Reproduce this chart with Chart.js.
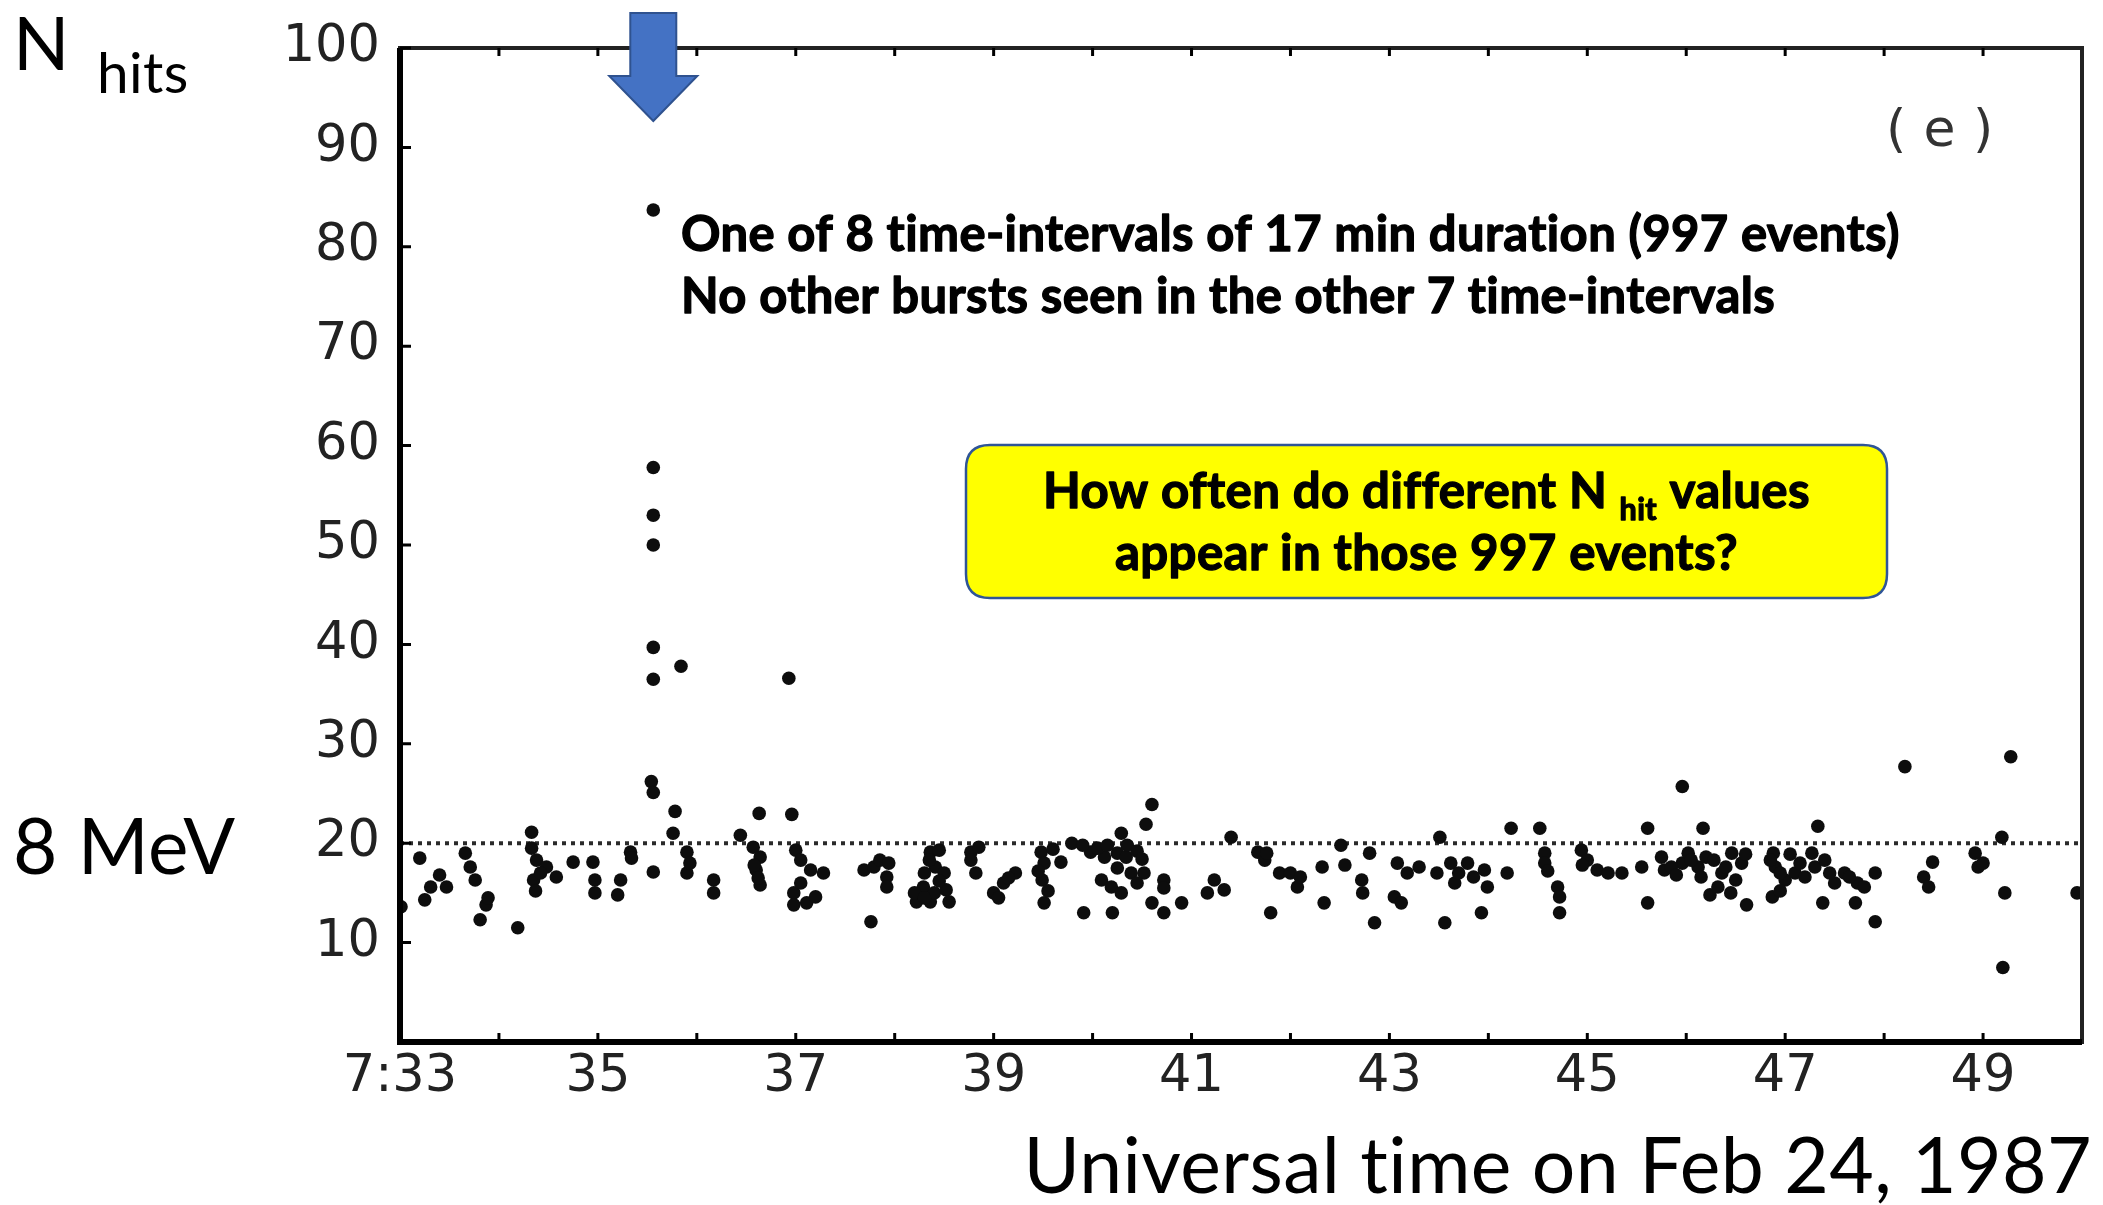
<!DOCTYPE html>
<html>
<head>
<meta charset="utf-8">
<script src="https://cdn.jsdelivr.net/npm/chart.js@4.4.1/dist/chart.umd.min.js"></script>
<style>
  html,body{margin:0;padding:0;background:#fff;}
  #wrap{position:relative;width:2103px;height:1205px;}
  canvas{display:block;}
</style>
</head>
<body>
<div id="wrap"><canvas id="c" width="2103" height="1205"></canvas></div>
<script>
// ---------- data ----------
// isolated / clearly separated events: time (minutes after 7:00 UT) and number of hit PMTs
const eventTimes = [
  33.01,33.20,33.25,33.31,33.47,33.66,33.71,33.76,33.81,33.87,33.89,34.19,34.33,34.33,34.35,34.37,34.38,34.48,34.58,34.75,
  34.95,34.97,34.97,35.20,35.23,35.33,35.34,35.54,35.56,35.56,35.56,35.56,35.56,35.56,35.56,35.56,35.76,35.78,35.84,35.90,
  35.90,35.93,36.17,36.17,36.44,36.57,36.60,36.63,36.64,36.64,36.93,36.96,36.98,36.98,37.00,37.05,37.11,37.15,37.28,
  37.69,37.76,37.79,37.92,37.92,38.22,38.29,38.36,38.36,38.40,38.41,38.50,38.52,38.77,38.77,38.82,39.00,39.10,39.22,39.48,
  39.49,39.51,39.51,39.68,39.79,39.91,39.98,40.09,40.12,40.19,40.20,40.25,40.29,40.29,40.34,40.39,40.52,40.54,40.60,40.60,
  40.72,40.72,40.72,40.90,41.16,41.23,41.33,41.40,41.67,
  41.74,41.76,41.80,41.89,42.00,42.07,42.32,42.34,42.51,42.72,42.73,42.80,42.85,43.05,43.08,43.12,43.18,43.48,43.51,43.56,
  43.62,43.66,43.79,43.93,43.96,43.99,44.19,44.23,44.52,44.57,44.57,44.70,44.72,44.72,44.94,45.00,45.10,45.21,45.35,45.55,
  45.61,45.61,45.78,45.96,45.96,46.02,
  46.12,46.17,46.20,46.24,46.32,46.36,46.46,46.56,46.61,46.87,46.88,46.90,47.00,47.10,47.27,47.30,47.33,47.38,47.50,47.60,
  47.71,47.73,47.91,47.91,48.21,48.40,48.45,48.49,48.92,48.95,49.19,49.20,49.22,49.28,49.95
];
const eventNhits = [
  13.6,18.5,14.3,15.6,15.6,19.0,17.6,16.3,12.3,13.8,14.5,11.5,21.1,19.5,16.3,15.2,18.3,17.6,16.6,18.1,
  18.1,16.3,15.0,14.8,16.3,19.1,18.5,26.2,25.1,17.1,36.5,39.7,50.0,53.0,57.8,83.7,21.0,23.2,37.8,19.1,
  17.0,18.0,16.3,15.0,20.8,19.6,17.3,23.0,18.6,15.8,36.6,22.9,15.0,13.8,19.3,18.3,14.0,17.3,17.0,
  17.3,12.1,17.6,16.6,15.6,14.1,15.6,19.1,14.1,15.0,17.6,17.0,15.3,19.1,18.3,17.0,15.0,16.0,17.0,19.1,
  16.3,18.0,14.0,18.1,20.0,13.0,19.1,16.3,18.6,15.6,13.0,19.0,21.0,15.0,18.6,17.0,17.0,21.9,23.9,14.0,
  16.3,15.5,13.0,14.0,15.0,16.3,15.3,20.6,19.1,
  18.3,19.0,13.0,17.0,17.0,15.6,17.6,14.0,19.8,16.3,15.0,19.0,12.0,14.6,18.0,14.0,17.0,17.0,20.6,12.0,
  18.0,16.0,18.0,13.0,17.3,15.6,17.0,21.5,21.5,19.0,18.0,15.6,14.6,13.0,19.3,18.3,17.3,17.0,17.0,17.6,
  21.5,14.0,17.3,25.7,18.0,19.0,
  17.6,21.5,18.6,14.8,15.6,17.0,19.0,18.0,13.8,14.6,19.0,17.6,16.3,17.0,19.0,17.6,21.7,14.0,16.0,17.0,
  14.0,16.0,17.0,12.1,27.7,16.6,15.6,18.1,19.0,17.6,20.6,7.5,15.0,28.7,15.0
];
// events inside the dense, overlapping clusters of the band just under the 8 MeV line
const clusterTimes = [
  33.40,34.42,36.58,36.62,37.05,37.20,37.85,37.94,38.20,38.30,38.30,38.35,38.45,38.45,38.55,38.85,39.05,39.15,39.45,39.55,
  39.60,39.90,40.05,40.15,40.25,40.35,40.45,40.45,40.50,42.10,42.55,43.30,43.70,43.85,44.60,44.95,45.75,45.85,45.90,46.05,
  46.15,46.28,46.40,46.45,46.50,46.60,46.85,46.95,46.95,47.05,47.15,47.20,47.40,47.45,47.65,47.80,49.00
];
const clusterNhits = [
  16.8,17.0,17.8,16.5,16.0,14.6,18.3,18.0,15.0,14.5,17.0,18.3,16.2,19.3,14.1,19.6,14.5,16.5,17.2,15.2,
  19.4,19.8,19.5,19.8,17.5,19.8,19.2,16.0,18.4,16.6,17.8,17.6,17.0,16.6,17.2,17.8,18.6,17.6,16.8,18.3,
  16.6,18.3,17.6,15.0,16.3,18.9,18.3,17.0,15.2,18.9,18.0,16.6,18.3,17.0,16.6,15.6,18.0
];
const burstTime = 35.56;          // minute marked by the arrow
const thresholdNhit = 20;         // 8 MeV line
const xMin = 33, xMax = 50;
const yMin = 0, yMax = 100;
const xTickValues = [33,35,37,39,41,43,45,47,49];
const xTickLabels = ["7:33","35","37","39","41","43","45","47","49"];
const yTickValues = [10,20,30,40,50,60,70,80,90,100];
const yTickLabels = ["10","20","30","40","50","60","70","80","90","100"];
const minorXTicks = [34,35,36,37,38,39,40,41,42,43,44,45,46,47,48,49];

// ---------- texts ----------
const txtN = "N", txtHits = "hits";
const txtMeV = "8 MeV";
const txtXTitle = "Universal time on Feb 24, 1987";
const txtPanel = "( e )";
const txtNote1 = "One of 8 time-intervals of 17 min duration (997 events)";
const txtNote2 = "No other bursts seen in the other 7 time-intervals";
const txtBox1a = "How often do different N ", txtBox1sub = "hit", txtBox1b = " values";
const txtBox2 = "appear in those 997 events?";

const SANS = "Lato, 'Open Sans', sans-serif";
function fitSize(ctx, text, weight, family, targetW){
  ctx.font = weight + " 100px " + family;
  return 100 * targetW / ctx.measureText(text).width;
}
function boldText(ctx, text, x, y){
  ctx.fillText(text, x, y);
  ctx.strokeText(text, x, y);
}

const annot = {
  id: 'annot',
  beforeDraw(chart){
    const ctx = chart.ctx;
    ctx.save(); ctx.fillStyle = '#fff'; ctx.fillRect(0,0,chart.width,chart.height); ctx.restore();
  },
  afterDraw(chart){
    const {ctx, chartArea:a, scales:{x, y}} = chart;
    ctx.save();
    // frame: heavier left and bottom edges as in the scan
    ctx.strokeStyle = '#222';
    ctx.lineWidth = 4;
    ctx.strokeRect(a.left, a.top, a.right - a.left, a.bottom - a.top);
    ctx.strokeStyle = '#000';
    ctx.lineWidth = 6;
    ctx.beginPath();
    ctx.moveTo(a.left, a.top); ctx.lineTo(a.left, a.bottom); ctx.lineTo(a.right, a.bottom);
    ctx.stroke();
    // inward ticks
    ctx.lineWidth = 3;
    ctx.beginPath();
    yTickValues.forEach(v => { const py = y.getPixelForValue(v); ctx.moveTo(a.left, py); ctx.lineTo(a.left + 11, py); });
    minorXTicks.forEach(v => { const px = x.getPixelForValue(v);
      ctx.moveTo(px, a.bottom); ctx.lineTo(px, a.bottom - 9);
      ctx.moveTo(px, a.top); ctx.lineTo(px, a.top + 8); });
    ctx.stroke();

    // blue arrow at the burst
    const ax = x.getPixelForValue(burstTime);
    ctx.beginPath();
    ctx.moveTo(ax - 23, 13); ctx.lineTo(ax + 23, 13); ctx.lineTo(ax + 23, 76);
    ctx.lineTo(ax + 44, 76); ctx.lineTo(ax, 121); ctx.lineTo(ax - 44, 76);
    ctx.lineTo(ax - 23, 76); ctx.closePath();
    ctx.fillStyle = '#4472c4'; ctx.fill();
    ctx.strokeStyle = '#2f528f'; ctx.lineWidth = 2; ctx.stroke();

    if ('letterSpacing' in ctx) ctx.letterSpacing = '0.4px';   // keeps "ti" etc. unligated
    ctx.fillStyle = '#000';
    ctx.textBaseline = 'alphabetic';
    ctx.textAlign = 'left';
    // N hits
    ctx.font = "400 74px " + SANS; ctx.fillText(txtN, 13, 70);
    ctx.font = "400 " + fitSize(ctx, txtHits, 400, SANS, 91) + "px " + SANS; ctx.fillText(txtHits, 97, 93);
    // 8 MeV
    ctx.font = "400 " + fitSize(ctx, txtMeV, 400, SANS, 222) + "px " + SANS; ctx.fillText(txtMeV, 13, 874);
    // x title
    ctx.font = "400 " + fitSize(ctx, txtXTitle, 400, SANS, 1066) + "px " + SANS;
    ctx.textAlign = 'right'; ctx.fillText(txtXTitle, 2092, 1193);
    // panel label
    ctx.textAlign = 'left'; ctx.fillStyle = '#333';
    ctx.font = "400 52px 'DejaVu Sans'"; ctx.fillText(txtPanel, 1886, 146);
    // notes
    ctx.fillStyle = '#000';
    ctx.strokeStyle = '#000';
    ctx.lineWidth = 1.3;
    ctx.lineJoin = 'round';
    const nb = fitSize(ctx, txtNote1, 700, SANS, 1208);
    ctx.font = "700 " + nb + "px " + SANS;
    boldText(ctx, txtNote1, 681, 251);
    boldText(ctx, txtNote2, 681, 313);

    // yellow box
    const bx = 966, by = 445, bw = 921, bh = 153, r = 24;
    ctx.beginPath();
    ctx.moveTo(bx + r, by); ctx.lineTo(bx + bw - r, by); ctx.quadraticCurveTo(bx + bw, by, bx + bw, by + r);
    ctx.lineTo(bx + bw, by + bh - r); ctx.quadraticCurveTo(bx + bw, by + bh, bx + bw - r, by + bh);
    ctx.lineTo(bx + r, by + bh); ctx.quadraticCurveTo(bx, by + bh, bx, by + bh - r);
    ctx.lineTo(bx, by + r); ctx.quadraticCurveTo(bx, by, bx + r, by); ctx.closePath();
    ctx.fillStyle = '#ffff00'; ctx.fill();
    ctx.strokeStyle = '#2f5597'; ctx.lineWidth = 2.5; ctx.stroke();

    ctx.fillStyle = '#000';
    ctx.strokeStyle = '#000';
    ctx.lineWidth = 1.3;
    const bs = fitSize(ctx, txtBox2, 700, SANS, 618);
    const subS = bs * 0.62;
    const cx = bx + bw / 2;
    ctx.font = "700 " + bs + "px " + SANS;
    const w1 = ctx.measureText(txtBox1a).width, w3 = ctx.measureText(txtBox1b).width;
    ctx.font = "700 " + subS + "px " + SANS;
    const w2 = ctx.measureText(txtBox1sub).width;
    let sx = cx - (w1 + w2 + w3) / 2;
    ctx.font = "700 " + bs + "px " + SANS; boldText(ctx, txtBox1a, sx, 508);
    ctx.font = "700 " + subS + "px " + SANS; boldText(ctx, txtBox1sub, sx + w1, 520);
    ctx.font = "700 " + bs + "px " + SANS; boldText(ctx, txtBox1b, sx + w1 + w2, 508);
    ctx.textAlign = 'center';
    boldText(ctx, txtBox2, cx, 570);
    ctx.restore();
  }
};

const tickFont = {family: "'DejaVu Sans', sans-serif", size: 51};
const allTimes = eventTimes.concat(clusterTimes);
const allNhits = eventNhits.concat(clusterNhits);

new Chart(document.getElementById('c').getContext('2d'), {
  type: 'scatter',
  data: {
    datasets: [
      {
        label: 'Events',
        data: allTimes.map((t, i) => ({x: t, y: allNhits[i]})),
        pointRadius: 6.8, pointBackgroundColor: '#0d0d0d', pointBorderWidth: 0, pointStyle: 'circle'
      },
      {
        type: 'line', label: '8 MeV threshold',
        data: [{x: xMin, y: thresholdNhit}, {x: xMax, y: thresholdNhit}],
        borderColor: '#2a2a2a', borderWidth: 4, borderDash: [4, 5], pointRadius: 0, fill: false
      }
    ]
  },
  options: {
    responsive: false, animation: false, devicePixelRatio: 1,
    layout: {padding: {left: 0, top: 48, right: 21, bottom: 0}},
    plugins: {legend: {display: false}, tooltip: {enabled: false}},
    scales: {
      x: {
        type: 'linear', min: xMin, max: xMax,
        afterBuildTicks: s => { s.ticks = xTickValues.map(v => ({value: v})); },
        afterFit: s => { s.height = 163; },
        ticks: {callback: v => xTickLabels[xTickValues.indexOf(v)], font: tickFont, color: '#222',
                padding: -3, maxRotation: 0, autoSkip: false},
        grid: {display: false}, border: {display: false}
      },
      y: {
        min: yMin, max: yMax,
        afterBuildTicks: s => { s.ticks = yTickValues.map(v => ({value: v})); },
        afterFit: s => { s.width = 400; },
        ticks: {callback: v => yTickLabels[yTickValues.indexOf(v)], font: tickFont, color: '#222', padding: 12},
        grid: {display: false}, border: {display: false}
      }
    }
  },
  plugins: [annot]
});
</script>
</body>
</html>
